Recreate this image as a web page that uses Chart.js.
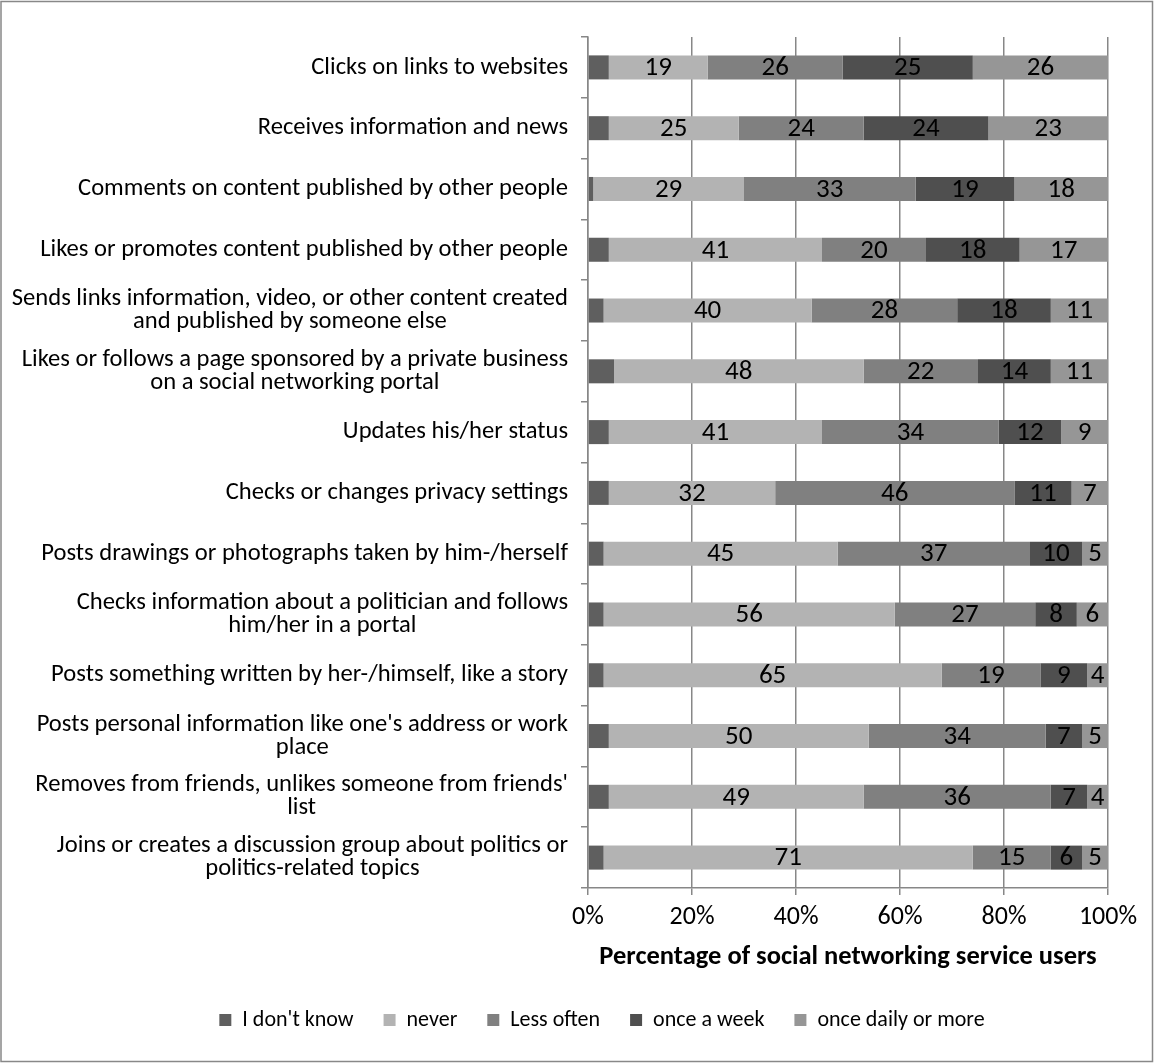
<!DOCTYPE html>
<html>
<head>
<meta charset="utf-8">
<title>Social networking activities</title>
<script src="https://cdn.jsdelivr.net/npm/chart.js@4/dist/chart.umd.min.js"></script>
<style>
  html, body { margin: 0; padding: 0; background: #ffffff; }
  #wrap { position: relative; width: 1154px; height: 1063px; }
</style>
</head>
<body>
<div id="wrap"><canvas id="chart" width="1154" height="1063"></canvas></div>
<script>
// Activities, each label split into the lines it is printed on
const categories = [
  ["Clicks on links to websites"],
  ["Receives information and news"],
  ["Comments on content published by other people"],
  ["Likes or promotes content published by other people"],
  ["Sends links information, video, or other content created", "and published by someone else"],
  ["Likes or follows a page sponsored by a private business", "on a social networking portal"],
  ["Updates his/her status"],
  ["Checks or changes privacy settings"],
  ["Posts drawings or photographs taken by him-/herself"],
  ["Checks information about a politician and follows", "him/her in a portal"],
  ["Posts something written by her-/himself, like a story"],
  ["Posts personal information like one's address or work", "place"],
  ["Removes from friends, unlikes someone from friends'", "list"],
  ["Joins or creates a discussion group about politics or", "politics-related topics"]
];

// Share of users (%) per answer
const dontKnow   = [4, 4, 1, 4, 3, 5, 4, 4, 3, 3, 3, 4, 4, 3];
const never      = [19, 25, 29, 41, 40, 48, 41, 32, 45, 56, 65, 50, 49, 71];
const lessOften  = [26, 24, 33, 20, 28, 22, 34, 46, 37, 27, 19, 34, 36, 15];
const onceWeek   = [25, 24, 19, 18, 18, 14, 12, 11, 10, 8, 9, 7, 7, 6];
const onceDaily  = [26, 23, 18, 17, 11, 11, 9, 7, 5, 6, 4, 5, 4, 5];

const seriesNames = ["I don't know", "never", "Less often", "once a week", "once daily or more"];
const seriesColors = ["#5f5f5f", "#b3b3b3", "#808080", "#4f4f4f", "#969696"];
const xTickValues = [0, 20, 40, 60, 80, 100];
const xTitle = "Percentage of social networking service users";

const FONT = "Carlito, 'Open Sans', sans-serif";
const GRID = "#878787";
const PAD_LEFT = 96;       // keeps the legend row centred under the plot
const AXIS_X = 588;        // left edge of the plot area

const seriesValues = [dontKnow, never, lessOften, onceWeek, onceDaily];

// White page with a thin grey frame
const framePlugin = {
  id: 'frame',
  beforeDraw(chart) {
    const ctx = chart.ctx;
    ctx.save();
    ctx.fillStyle = '#ffffff';
    ctx.fillRect(0, 0, chart.width, chart.height);
    ctx.strokeStyle = '#888888';
    ctx.lineWidth = 1.5;
    ctx.strokeRect(1, 1.5, chart.width - 2.5, chart.height - 3);
    ctx.restore();
  }
};

// Category labels: each block right-aligned to the axis, its lines centred within the block
const categoryLabelPlugin = {
  id: 'categoryLabels',
  afterDraw(chart) {
    const ctx = chart.ctx;
    const yScale = chart.scales.y;
    const right = chart.chartArea.left - 20;
    const lineHeight = 23;
    ctx.save();
    ctx.font = "24.6px " + FONT;
    ctx.fillStyle = '#000000';
    ctx.textAlign = 'center';
    ctx.textBaseline = 'middle';
    categories.forEach((lines, i) => {
      const y = yScale.getPixelForValue(i);
      const maxW = Math.max(...lines.map(l => ctx.measureText(l).width));
      const cx = right - maxW / 2;
      const y0 = y - (lines.length - 1) * lineHeight / 2;
      lines.forEach((l, k) => ctx.fillText(l, cx, y0 + k * lineHeight));
    });
    ctx.restore();
  }
};

// Value printed in the middle of each segment (not for "I don't know")
const valueLabelPlugin = {
  id: 'valueLabels',
  afterDatasetsDraw(chart) {
    const ctx = chart.ctx;
    ctx.save();
    ctx.font = "27px " + FONT;
    ctx.fillStyle = '#000000';
    ctx.textAlign = 'center';
    ctx.textBaseline = 'middle';
    chart.data.datasets.forEach((ds, d) => {
      if (d === 0) return;
      const meta = chart.getDatasetMeta(d);
      meta.data.forEach((el, i) => {
        const x = (el.x + el.base) / 2;
        ctx.fillText(String(ds.data[i]), x, el.y + 1);
      });
    });
    ctx.restore();
  }
};

new Chart(document.getElementById('chart'), {
  type: 'bar',
  data: {
    labels: categories,
    datasets: seriesNames.map((name, k) => ({
      label: name,
      data: seriesValues[k],
      backgroundColor: seriesColors[k],
      borderWidth: 0,
      barPercentage: 0.79,
      categoryPercentage: 0.5
    }))
  },
  options: {
    indexAxis: 'y',
    responsive: false,
    animation: false,
    layout: { padding: { top: 37, right: 46, bottom: 22, left: PAD_LEFT } },
    scales: {
      x: {
        stacked: true,
        min: 0,
        max: 100,
        afterBuildTicks(scale) { scale.ticks = xTickValues.map(v => ({ value: v })); },
        ticks: {
          callback: v => v + '%',
          color: '#000000',
          font: { family: FONT, size: 26 },
          padding: 7,
          maxRotation: 0
        },
        grid: { color: GRID, lineWidth: 1.5, tickLength: 7, drawTicks: true },
        border: { color: GRID, width: 1.5 },
        title: {
          display: true,
          text: xTitle,
          color: '#000000',
          font: { family: FONT, size: 26.5, weight: 'bold' },
          padding: { top: 1, bottom: 6 }
        }
      },
      y: {
        stacked: true,
        ticks: { display: false },
        grid: { drawOnChartArea: false, color: GRID, lineWidth: 1.5, tickLength: 7, offset: true },
        border: { color: GRID, width: 1.5 },
        afterFit(scale) { scale.width = AXIS_X - PAD_LEFT; }
      }
    },
    plugins: {
      legend: {
        position: 'bottom',
        labels: {
          color: '#000000',
          font: { family: FONT, size: 22 },
          boxWidth: 12,
          boxHeight: 12,
          padding: 30
        }
      },
      tooltip: { enabled: false }
    }
  },
  plugins: [framePlugin, categoryLabelPlugin, valueLabelPlugin]
});
</script>
</body>
</html>
